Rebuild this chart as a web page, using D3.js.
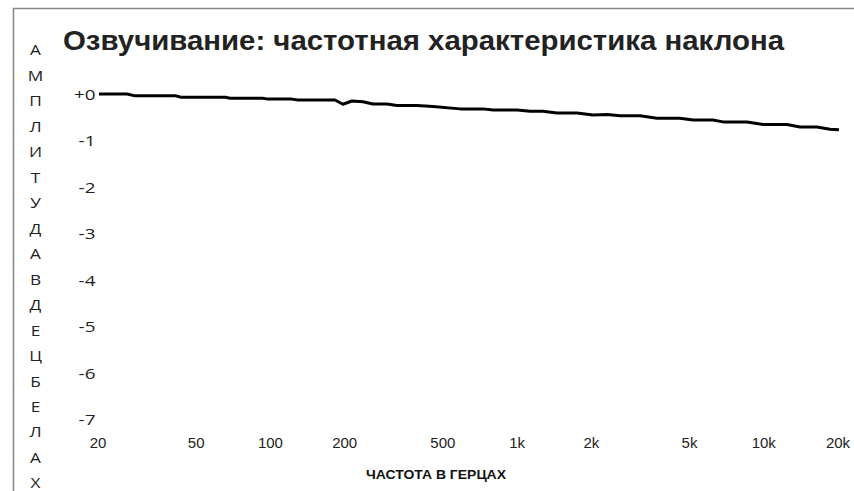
<!DOCTYPE html>
<html>
<head>
<meta charset="utf-8">
<script src="https://cdn.jsdelivr.net/npm/d3@7"></script>
<style>
  html, body { margin: 0; padding: 0; background: #fff; }
  svg { display: block; }
</style>
</head>
<body>
<svg id="chart" width="854" height="491"></svg>
<script>
// ---- data ----
const chartTitle = "Озвучивание: частотная характеристика наклона";
const yAxisTitle = "АМПЛИТУДА В ДЕЦБЕЛАХ";
const xAxisTitle = "ЧАСТОТА В ГЕРЦАХ";

const xTickValues = [20, 50, 100, 200, 500, 1000, 2000, 5000, 10000, 20000];
const xTickLabels = ["20", "50", "100", "200", "500", "1k", "2k", "5k", "10k", "20k"];
const yTickValues = [0, -1, -2, -3, -4, -5, -6, -7];
const yTickLabels = ["+0", "-1", "-2", "-3", "-4", "-5", "-6", "-7"];

const freqHz = [20, 26, 28, 41, 43, 65, 68, 92, 97, 121, 128, 181, 195, 212, 235, 258, 294, 323, 389, 452, 582, 721, 791, 991, 1117, 1262, 1439, 1734, 2013, 2296, 2590, 3121, 3657, 4530, 5118, 6166, 6771, 8470, 9847, 12303, 13900, 16290, 18380, 20000];
const gainDb = [0, 0, -0.04, -0.04, -0.07, -0.07, -0.09, -0.09, -0.11, -0.11, -0.13, -0.13, -0.22, -0.15, -0.165, -0.215, -0.215, -0.245, -0.245, -0.27, -0.32, -0.32, -0.345, -0.345, -0.37, -0.37, -0.41, -0.41, -0.45, -0.44, -0.47, -0.47, -0.52, -0.52, -0.56, -0.56, -0.60, -0.60, -0.655, -0.655, -0.71, -0.71, -0.76, -0.77];

// ---- drawing ----
const svg = d3.select("#chart");

const x = d3.scaleLog().domain([20, 20000]).range([99, 839]);
const y = d3.scaleLinear().domain([0, -7]).range([94, 419.5]);

// frame lines (top and left)
svg.append("path")
  .attr("d", "M13.5,491 L13.5,8.5 L854,8.5")
  .attr("fill", "none")
  .attr("stroke", "#8a8a8a")
  .attr("stroke-width", 1.6);

// title
svg.append("text")
  .attr("x", 63).attr("y", 50)
  .attr("font-family", "'Liberation Sans', Arial, sans-serif")
  .attr("font-weight", "bold")
  .attr("font-size", 28)
  .attr("textLength", 721)
  .attr("lengthAdjust", "spacingAndGlyphs")
  .attr("fill", "#222")
  .text(chartTitle);

// vertical y-axis title, one letter per line
const yLetters = Array.from(yAxisTitle.replace(/\s/g, ""));
const letterY = d3.scaleLinear().domain([0, yLetters.length - 1]).range([50, 483]);
svg.append("g")
  .selectAll("text")
  .data(yLetters)
  .join("text")
  .attr("transform", (d, i) => `translate(35.5,${letterY(i)}) scale(1.15,1)`)
  .attr("dy", "0.36em")
  .attr("text-anchor", "middle")
  .attr("font-family", "'Open Sans', 'Noto Sans', sans-serif")
  .attr("font-size", 15)
  .attr("fill", "#222")
  .text(d => d);

// y axis (labels only)
const yAxis = d3.axisLeft(y)
  .tickValues(yTickValues)
  .tickFormat((d, i) => yTickLabels[i])
  .tickSize(0)
  .tickPadding(0);
const gy = svg.append("g").attr("transform", "translate(95.5,0)").call(yAxis);
gy.select(".domain").remove();
gy.selectAll("text")
  .attr("font-family", "'Open Sans', 'Noto Sans', sans-serif")
  .attr("font-size", 14)
  .attr("fill", "#222")
  .attr("dy", "0.36em")
  .attr("transform", "scale(1.35,1)");

// x axis (labels only)
const xAxis = d3.axisBottom(x)
  .tickValues(xTickValues)
  .tickFormat((d, i) => xTickLabels[i])
  .tickSize(0)
  .tickPadding(0);
const gx = svg.append("g").attr("transform", "translate(0,437)").call(xAxis);
gx.select(".domain").remove();
gx.selectAll("text")
  .attr("font-family", "'Liberation Sans', Arial, sans-serif")
  .attr("font-size", 15)
  .attr("fill", "#222")
  .attr("dy", "0.71em")
  .attr("dx", -1.5);

// x axis title
svg.append("text")
  .attr("x", 366).attr("y", 479)
  .attr("font-family", "'Liberation Sans', Arial, sans-serif")
  .attr("font-weight", "bold")
  .attr("font-size", 12)
  .attr("textLength", 140)
  .attr("lengthAdjust", "spacingAndGlyphs")
  .attr("fill", "#111")
  .text(xAxisTitle);

// response curve
const data = freqHz.map((f, i) => ({ f, db: gainDb[i] }));
svg.append("path")
  .datum(data)
  .attr("fill", "none")
  .attr("stroke", "#000")
  .attr("stroke-width", 3)
  .attr("stroke-linejoin", "round")
  .attr("d", d3.line().x(d => x(d.f)).y(d => y(d.db)));
</script>
</body>
</html>
